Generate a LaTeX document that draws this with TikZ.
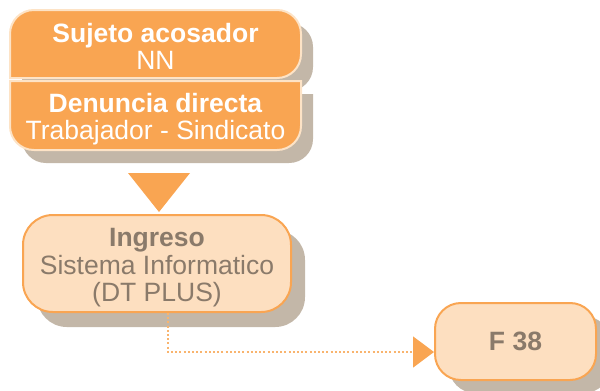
\documentclass[tikz,border=0pt]{standalone}
\usepackage{fontspec}
\setmainfont{Liberation Sans}
\usetikzlibrary{arrows.meta,calc}
\definecolor{orng}{HTML}{F9A552}
\definecolor{lightb}{HTML}{FDE3C6}
\definecolor{pale}{HTML}{FDDFC0}
\definecolor{shad}{HTML}{C3B7A8}
\definecolor{txtg}{HTML}{8A7A6A}
\definecolor{dotc}{HTML}{F9B46E}
\begin{document}
\begin{tikzpicture}[x=1bp,y=-1bp,
  shadowfill/.style={fill=shad,draw=none},
  topbox/.style={fill=orng,draw=lightb,line width=2bp},
  whitetxt/.style={text=white,align=center,font=\fontsize{26.5bp}{27bp}\selectfont},
  graytxt/.style={text=txtg,align=center,font=\fontsize{26.5bp}{27.5bp}\selectfont},
  dotline/.style={draw=dotc,line width=1.5bp,dash pattern=on 2bp off 2.2bp}]
\useasboundingbox (0,0) rectangle (600,390);
% top box shadows
\fill[shad,rounded corners=24] (22,91) -- (22,23) -- (313,23) -- (313,91) [sharp corners] -- cycle;
\fill[shad,rounded corners=24] (22,94) [sharp corners] -- (313,94) [rounded corners=24] -- (313,163) -- (22,163) [sharp corners] -- cycle;
% top box sections
\draw[topbox,rounded corners=24] (10,78) -- (10,10) -- (301,10) -- (301,78) [sharp corners] -- cycle;
\draw[topbox,rounded corners=24] (10,81) [sharp corners] -- (301,81) [rounded corners=24] -- (301,150) -- (10,150) [sharp corners] -- cycle;
\node[whitetxt] (suj) at (155.5,46) {\textbf{Sujeto acosador}\\NN};
\node[whitetxt] (den) at (155.5,119) {\textbf{Denuncia directa}\\Trabajador - Sindicato};
% down triangle
\fill[orng] (128,173) -- (190,173) -- (159,212) -- cycle;
% Ingreso
\fill[shad,rounded corners=30] (37,230) rectangle (305,327);
\draw[fill=pale,draw=orng,line width=2bp,rounded corners=30] (23,215) rectangle (291,312);
\node[graytxt] (ing) at (157,268) {\textbf{Ingreso}\\Sistema Informatico\\(DT PLUS)};
\coordinate (ingb) at (168,313);
% F38
\fill[shad,rounded corners=26] (449,316) rectangle (610,393);
\draw[fill=pale,draw=orng,line width=2bp,rounded corners=26] (435,303) rectangle (596,380);
\node[graytxt] (f38) at (515.5,341) {\textbf{F 38}};
\coordinate (f38w) at (434,352);
% connector
\draw[dotline,-{Triangle[length=21bp,width=31bp,fill=orng,color=orng]}] (ingb) |- (f38w);
\end{tikzpicture}
\end{document}
